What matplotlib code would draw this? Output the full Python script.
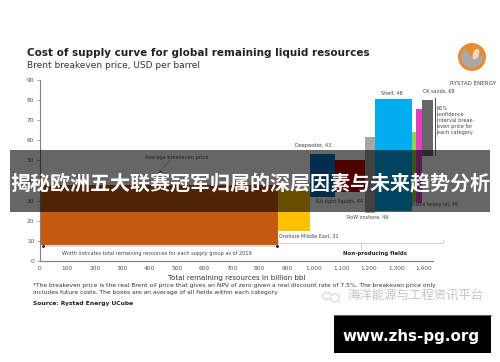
import matplotlib
matplotlib.use("Agg")
import matplotlib.pyplot as plt
from matplotlib.patches import Rectangle, Wedge, Circle, Ellipse

plt.rcParams['font.family'] = ['DejaVu Sans']
CJK = ['Noto Sans CJK SC', 'DejaVu Sans']

names = ["Onshore Middle East", "Onshore other", "Deepwater", "NA tight liquids", "RoW onshore", "Shelf", "Extra light", "Extra heavy oil", "Oil sands"]
x_left = [0, 868, 984, 1075, 1185, 1221, 1356, 1371, 1393]
x_right = [868, 984, 1075, 1185, 1221, 1356, 1371, 1393, 1433]
y_low = [7.8, 15, 32, 34.5, 24, 25, 29.5, 29, 52]
y_high = [38, 35.5, 53.2, 50.2, 61.7, 80.6, 64, 75.6, 80]
colors = ["#C55A11", "#FFC000", "#0070C0", "#C00000", "#A6A6A6", "#00AEEF", "#92D050", "#E040C0", "#666666"]
xticks = list(range(0, 1500, 100))
yticks = list(range(0, 100, 10))

W, H = 500, 362
fig = plt.figure(figsize=(W/100, H/100), dpi=100)
ax = fig.add_axes([40/W, 1-261/H, (433-40)/W, (261-80)/H])
ax.set_xlim(0, 1433); ax.set_ylim(0, 90)
ax.patch.set_alpha(0)
for i in range(len(x_left)):
    ax.add_patch(Rectangle((x_left[i], y_low[i]), x_right[i]-x_left[i], y_high[i]-y_low[i], fc=colors[i], ec='none', clip_on=False))
for s in ['top', 'right']:
    ax.spines[s].set_visible(False)
for s in ['left', 'bottom']:
    ax.spines[s].set_color('#808080')
ax.set_xticks(xticks)
ax.set_xticklabels([f"{v:,}" for v in xticks], fontsize=4.2, color='#555555')
ax.set_yticks(yticks)
ax.tick_params(axis='y', labelsize=4.2, labelcolor='#555555', length=2, width=.5, color='#808080', pad=2)
ax.tick_params(axis='x', length=0, pad=3.5)

def T(px, py, s, size=3.55, color='#444444', weight='normal', ha='left', va='center', **kw):
    return fig.text(px/W, 1-py/H, s, fontsize=size, color=color, fontweight=weight, ha=ha, va=va, **kw)

T(27, 53.5, "Cost of supply curve for global remaining liquid resources", 7.5, '#222222', 'bold')
T(27, 65, "Brent breakeven price, USD per barrel", 6.5, '#333333')
T(145, 158, "Average breakeven price", 3.6, '#222222')
T(62, 254, "Width indicates total remaining resources for each supply group as of 2019", 3.6)
T(295, 145, "Deepwater, 43")
T(381, 93, "Shelf, 48")
T(423, 91, "Oil sands, 69")
for i, s in enumerate(["60%", "confidence", "interval break-", "even price for", "each category"]):
    T(437, 108+i*6.1, s, 3.6)
T(316, 202, "NA tight liquids, 44", 3.5, '#222222')
T(412, 204.5, "Extra heavy oil, 49", 3.5, '#222222')
T(347, 217, "RoW onshore, 46")
T(279, 236, "Onshore Middle East, 31")
T(343, 254, "Non-producing fields", 3.85, '#222222', 'bold')
T(168, 278, "Total remaining resources in billion bbl", 5.1, '#333333')
T(33, 285, "*The breakeven price is the real Brent oil price that gives an NPV of zero given a real discount rate of 7.5%. The breakeven price only", 4.3, '#333333')
T(33, 292.5, "includes future costs. The boxes are an average of all fields within each category", 4.3, '#333333')
T(33, 303.5, "Source: Rystad Energy UCube", 4.35, '#222222', 'bold')
T(450, 83.5, "RYSTAD ENERGY", 4.05)

lg = fig.add_axes([0, 0, 1, 1]); lg.set_xlim(0, W); lg.set_ylim(H, 0); lg.axis('off'); lg.patch.set_alpha(0)
# logo
lg.add_patch(Circle((472, 57), 14, fc='#E88A2E', ec='none'))
lg.add_patch(Circle((472, 57), 11, fc='#A8A8A8', ec='none'))
lg.add_patch(Wedge((472, 57), 11, 230, 350, fc='#E88A2E', ec='none'))
lg.add_patch(Ellipse((476, 54), 6, 11, angle=20, fc='#F4D9BC', ec='none'))
# annotation lines
lg.plot([435, 435], [98, 155], color='#222222', lw=.6)
lg.plot([436.5, 436.5], [106, 136], color='#999999', lw=.5)
lg.plot([43, 278], [246, 246], color='#333333', lw=.25)
lg.plot([43, 277], [246, 246], 'o', color='#111111', ms=1)
lg.plot([278, 278, 443, 443], [240, 243, 243, 240], color='#BBBBBB', lw=.5)
lg.plot([361, 361], [243, 249], color='#BBBBBB', lw=.5)
lg.plot([160, 170], [172, 160], color='#333333', lw=.35)
lg.plot([160], [172], 'o', color='#111111', ms=1)
# banner
lg.add_patch(Rectangle((10, 150), 480, 62, fc='black', alpha=.6, ec='none'))
lg.text(250, 183.5, "揭秘欧洲五大联赛冠军归属的深层因素与未来趋势分析", color='white', fontsize=14.45, fontweight='bold',
        family=CJK, ha='center', va='center')
# watermark
lg.text(347, 296, "海洋能源与工程资讯平台", color='#C4C4C4', fontsize=8.9, family=CJK, ha='left', va='center')
lg.add_patch(Ellipse((327, 296), 9, 7, fc='none', ec='#C8C8C8', lw=.6))
lg.add_patch(Ellipse((335, 298), 9, 8, fc='white', ec='#C8C8C8', lw=.6))
# footer box
lg.add_patch(Rectangle((334, 315), 157, 38, fc='black', ec='none'))
lg.plot([334, 491], [315.3, 315.3], color='#666666', lw=.7)
lg.text(411.5, 336, "www.zhs-pg.org", color='white', fontsize=10.9, fontweight='bold', ha='center', va='center', family='DejaVu Sans')

fig.savefig("out.png", dpi=100)
